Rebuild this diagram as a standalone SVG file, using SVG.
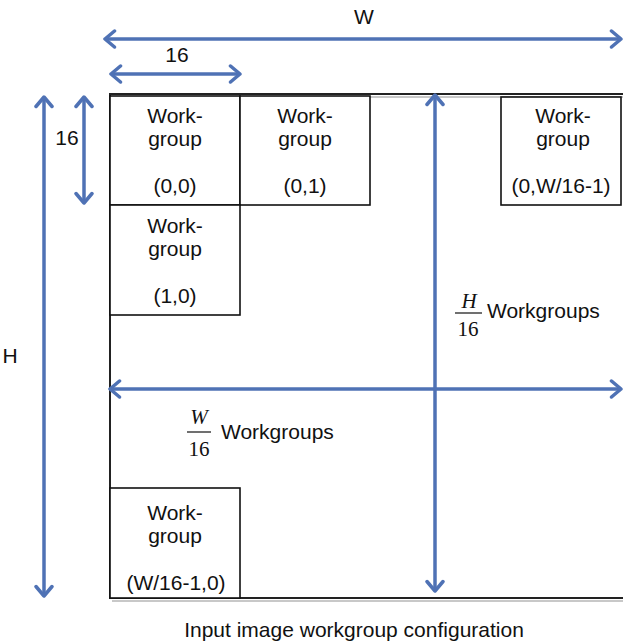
<svg xmlns="http://www.w3.org/2000/svg" width="623" height="643" viewBox="0 0 623 643">
  <style>
    .lbl { font-family: "Liberation Sans", Arial, Helvetica, sans-serif; font-size: 21px; fill: #111; }
    .mid { text-anchor: middle; }
    .math { font-family: "Liberation Serif", "Times New Roman", serif; font-size: 21px; fill: #111; text-anchor: middle; }
    .it { font-style: italic; }
    .box { fill: #fff; stroke: #111; stroke-width: 1.6; }
    .frame { fill: none; stroke: #222; stroke-width: 2; }
    .shade { fill: none; stroke: #c8c8c8; stroke-width: 2; }
    .rule { stroke: #111; stroke-width: 1.2; }
    .arr { fill: none; stroke: #4f72b5; stroke-width: 3.5; marker-start: url(#head); marker-end: url(#head); }
  </style>
  <defs>
    <marker id="head" viewBox="-12 -10 14 20" markerWidth="14" markerHeight="20" refX="0" refY="0" orient="auto-start-reverse" markerUnits="userSpaceOnUse">
      <path d="M -9.5 -8 L 0 0 L -9.5 8" fill="none" stroke="#4f72b5" stroke-width="3.5" stroke-linecap="round" stroke-linejoin="round"/>
    </marker>
  </defs>
  <rect width="623" height="643" fill="#fff"/>

  <!-- image frame (open on the right, runs past the edge) -->
  <g id="frame">
    <path class="shade" d="M 625 97 L 113 97 M 112 601 L 625 601"/>
    <path class="frame" d="M 625 94 L 110 94 L 110 598 L 625 598"/>
  </g>

  <!-- workgroup tiles -->
  <g id="wg-0-0">
    <rect class="box" x="110" y="96" width="130" height="109"/>
    <text class="lbl mid" x="175" y="123">Work-</text>
    <text class="lbl mid" x="175" y="146">group</text>
    <text class="lbl mid" x="175" y="193">(0,0)</text>
  </g>
  <g id="wg-0-1">
    <rect class="box" x="240" y="96" width="130" height="109"/>
    <text class="lbl mid" x="305" y="123">Work-</text>
    <text class="lbl mid" x="305" y="146">group</text>
    <text class="lbl mid" x="305" y="193">(0,1)</text>
  </g>
  <g id="wg-0-last">
    <rect class="box" x="501" y="97" width="120" height="108"/>
    <text class="lbl mid" x="563" y="123">Work-</text>
    <text class="lbl mid" x="563" y="146">group</text>
    <text class="lbl mid" x="561" y="193">(0,W/16-1)</text>
  </g>
  <g id="wg-1-0">
    <rect class="box" x="110" y="205" width="130" height="110"/>
    <text class="lbl mid" x="175" y="233">Work-</text>
    <text class="lbl mid" x="175" y="256">group</text>
    <text class="lbl mid" x="175" y="303">(1,0)</text>
  </g>
  <g id="wg-last-0">
    <rect class="box" x="110" y="488" width="130" height="110"/>
    <text class="lbl mid" x="175" y="520">Work-</text>
    <text class="lbl mid" x="175" y="543">group</text>
    <text class="lbl mid" x="176" y="590">(W/16-1,0)</text>
  </g>

  <!-- dimension arrows -->
  <g id="connectors">
    <line class="arr" x1="105" y1="39" x2="621" y2="39"/>
    <line class="arr" x1="111" y1="74" x2="240" y2="74"/>
    <line class="arr" x1="44" y1="97" x2="44" y2="596"/>
    <line class="arr" x1="84" y1="97" x2="84" y2="203"/>
    <line class="arr" x1="435" y1="95" x2="435" y2="591"/>
    <line class="arr" x1="110" y1="389" x2="621" y2="389"/>
  </g>

  <!-- dimension labels -->
  <g id="labels">
    <text class="lbl mid" x="364" y="24">W</text>
    <text class="lbl mid" x="177" y="62">16</text>
    <text class="lbl mid" x="10" y="363">H</text>
    <text class="lbl mid" x="67" y="145">16</text>

    <text class="math it" x="469" y="308">H</text>
    <line class="rule" x1="455" y1="313" x2="482" y2="313"/>
    <text class="math" x="468" y="336">16</text>
    <text class="lbl" x="487" y="318">Workgroups</text>

    <text class="math it" x="199" y="424">W</text>
    <line class="rule" x1="187" y1="432" x2="211" y2="432"/>
    <text class="math" x="199" y="456">16</text>
    <text class="lbl" x="221" y="439">Workgroups</text>

    <text class="lbl mid" x="354" y="637">Input image workgroup configuration</text>
  </g>
</svg>
